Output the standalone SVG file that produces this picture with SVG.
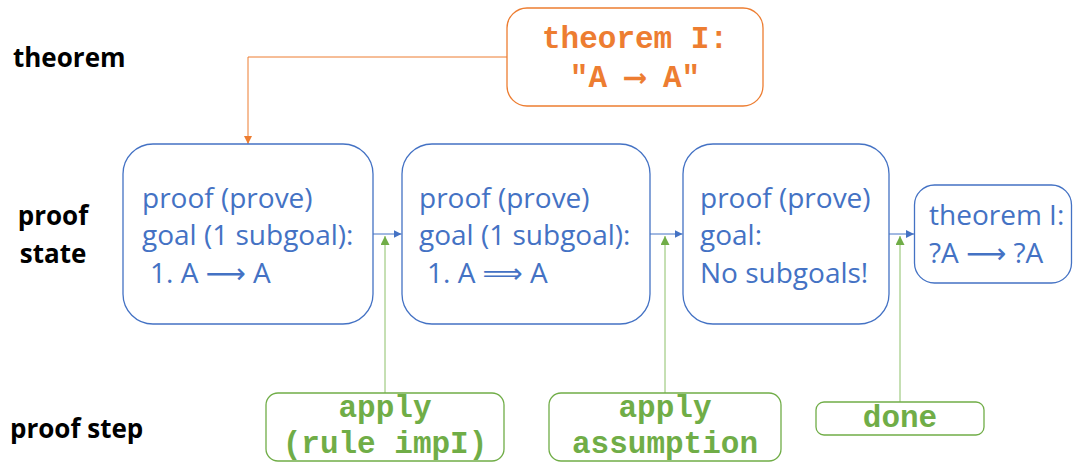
<svg xmlns="http://www.w3.org/2000/svg" width="1073" height="462" viewBox="0 0 1073 462">
<style>
.lbl{font-family:"Open Sans","Liberation Sans",sans-serif;font-weight:bold;font-size:26px;fill:#000}
.st{fill:#fff;stroke:#4472C4;stroke-width:1.3}
.stt{font-family:"Open Sans","DejaVu Sans",sans-serif;font-size:28px;fill:#4472C4}
.thm{fill:#fff;stroke:#ED7D31;stroke-width:1.3}
.tht{font-family:"Liberation Mono","Courier New",monospace;font-weight:bold;font-size:31px;fill:#ED7D31;text-anchor:middle}
.stp{fill:#fff;stroke:#70AD47;stroke-width:1.3}
.stpt{font-family:"Liberation Mono","Courier New",monospace;font-weight:bold;font-size:31px;fill:#70AD47;text-anchor:middle}
.cb{fill:none;stroke:#4472C4;stroke-width:1}
.co{fill:none;stroke:#ED7D31;stroke-width:1}
.cg{fill:none;stroke:#8CC068;stroke-width:1}
</style>
<defs>
<marker id="ab" viewBox="0 0 10 10" refX="10" refY="5" markerWidth="8" markerHeight="8" markerUnits="userSpaceOnUse" orient="auto"><path d="M0,0 L10,5 L0,10 z" fill="#4472C4"/></marker>
<marker id="ao" viewBox="0 0 10 10" refX="10" refY="5" markerWidth="8" markerHeight="8" markerUnits="userSpaceOnUse" orient="auto"><path d="M0,0 L10,5 L0,10 z" fill="#ED7D31"/></marker>
<marker id="ag" viewBox="0 0 10 10" refX="10" refY="5" markerWidth="9" markerHeight="9" markerUnits="userSpaceOnUse" orient="auto"><path d="M0,0 L10,5 L0,10 z" fill="#70AD47"/></marker>
</defs>
<g id="labels">
<text class="lbl" x="13" y="67">theorem</text>
<text class="lbl" x="53" y="225" text-anchor="middle">proof</text>
<text class="lbl" x="53" y="263" text-anchor="middle">state</text>
<text class="lbl" x="10" y="438">proof step</text>
</g>
<g id="connectors">
<path class="co" d="M507,57 H248 V144" marker-end="url(#ao)"/>
<path class="cb" d="M373,234 H401.5" marker-end="url(#ab)"/>
<path class="cb" d="M650,234 H682.5" marker-end="url(#ab)"/>
<path class="cb" d="M889,234 H914" marker-end="url(#ab)"/>
<path class="cg" d="M385,393 V236" marker-end="url(#ag)"/>
<path class="cg" d="M665,393 V236" marker-end="url(#ag)"/>
<path class="cg" d="M900,402 V236" marker-end="url(#ag)"/>
</g>
<g id="theorem">
<rect class="thm" x="507" y="8" width="256" height="98" rx="20"/>
<text class="tht" x="635" y="48">theorem I:</text>
<text class="tht" x="635" y="87">"A ⟶ A"</text>
</g>
<g id="state1">
<rect class="st" x="123" y="144" width="250" height="180" rx="30"/>
<text class="stt" x="142" y="208">proof (prove)</text>
<text class="stt" x="142" y="245">goal (1 subgoal):</text>
<text class="stt" x="150" y="283">1. A ⟶ A</text>
</g>
<g id="state2">
<rect class="st" x="402" y="144" width="248" height="180" rx="30"/>
<text class="stt" x="419" y="208">proof (prove)</text>
<text class="stt" x="419" y="245">goal (1 subgoal):</text>
<text class="stt" x="427" y="283">1. A ⟹ A</text>
</g>
<g id="state3">
<rect class="st" x="683" y="144" width="206" height="180" rx="30"/>
<text class="stt" x="700" y="208">proof (prove)</text>
<text class="stt" x="700" y="245">goal:</text>
<text class="stt" x="700" y="283">No subgoals!</text>
</g>
<g id="state4">
<rect class="st" x="914.5" y="185" width="157" height="98" rx="20"/>
<text class="stt" x="929" y="225">theorem I:</text>
<text class="stt" x="929" y="263">?A ⟶ ?A</text>
</g>
<g id="step1">
<rect class="stp" x="266" y="393" width="238" height="68" rx="12"/>
<text class="stpt" x="385" y="417">apply</text>
<text class="stpt" x="385" y="453">(rule impI)</text>
</g>
<g id="step2">
<rect class="stp" x="549" y="393" width="232" height="68" rx="12"/>
<text class="stpt" x="665" y="417">apply</text>
<text class="stpt" x="665" y="453">assumption</text>
</g>
<g id="step3">
<rect class="stp" x="816" y="402" width="168" height="33" rx="8"/>
<text class="stpt" x="900" y="427">done</text>
</g>
</svg>
